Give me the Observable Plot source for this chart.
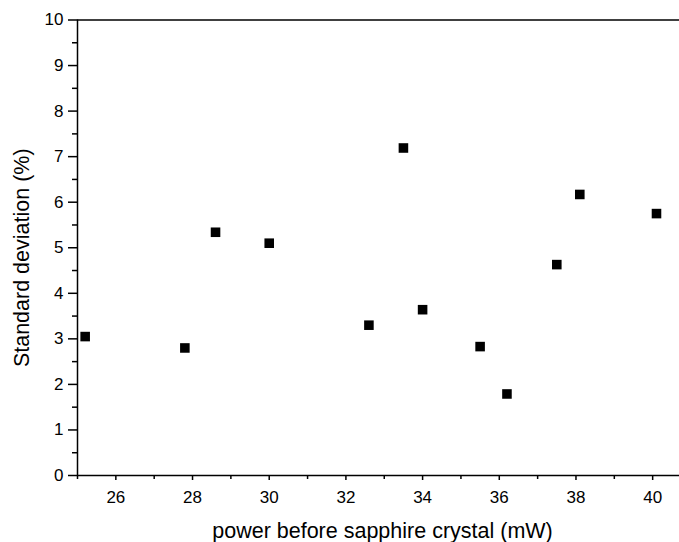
<!DOCTYPE html>
<html>
<head>
<meta charset="utf-8">
<script src="https://cdn.jsdelivr.net/npm/d3@7"></script>
<script src="https://cdn.jsdelivr.net/npm/@observablehq/plot@0.6"></script>
<style>
  html, body { margin: 0; padding: 0; background: #fff; }
  svg { display: block; }
</style>
</head>
<body>
<div id="chart"></div>
<script>
const power = [25.2, 27.8, 28.6, 30.0, 32.6, 33.5, 34.0, 35.5, 36.2, 37.5, 38.1, 40.1];
const stdev = [3.05, 2.80, 5.34, 5.10, 3.30, 7.19, 3.64, 2.83, 1.79, 4.63, 6.17, 5.75];
const xMajor = [26, 28, 30, 32, 34, 36, 38, 40];
const xMinor = [25, 27, 29, 31, 33, 35, 37, 39];
const yMajor = [0, 1, 2, 3, 4, 5, 6, 7, 8, 9, 10];
const yMinor = [0.5, 1.5, 2.5, 3.5, 4.5, 5.5, 6.5, 7.5, 8.5, 9.5];
const xTitle = "power before sapphire crystal (mW)";
const yTitle = "Standard deviation (%)";

const data = power.map((p, i) => ({power: p, stdev: stdev[i]}));

const chart = Plot.plot({
  width: 679,
  height: 542,
  marginLeft: 77,
  marginRight: 0,
  marginTop: 19.5,
  marginBottom: 67,
  style: {fontFamily: "'Liberation Sans', Arial, sans-serif", color: "#000", background: "#fff"},
  x: {domain: [25, 40.7]},
  y: {domain: [0, 10]},
  marks: [
    Plot.axisX({ticks: xMajor, tickSize: 5, tickPadding: 10, fontSize: 17, label: null, strokeWidth: 1.5}),
    Plot.axisX({ticks: xMinor, tickSize: 4, text: null, label: null, strokeWidth: 1.5}),
    Plot.axisY({ticks: yMajor, tickSize: 9, tickPadding: 5, fontSize: 17, label: null, strokeWidth: 1.5}),
    Plot.axisY({ticks: yMinor, tickSize: 5, text: null, label: null, strokeWidth: 1.5}),
    Plot.ruleX([25], {strokeWidth: 1.5}),
    Plot.ruleY([0, 10], {strokeWidth: 1.5}),
    Plot.text([xTitle], {frameAnchor: "bottom", dx: 4, dy: 62, fontSize: 21.5, text: d => d}),
    Plot.text([yTitle], {frameAnchor: "left", textAnchor: "middle", dx: -55, dy: 10, rotate: -90, fontSize: 21.5, text: d => d}),
    Plot.dot(data, {x: "power", y: "stdev", symbol: "square", r: 5.4, fill: "#000", stroke: "none"})
  ]
});
document.getElementById("chart").append(chart);
</script>
</body>
</html>
